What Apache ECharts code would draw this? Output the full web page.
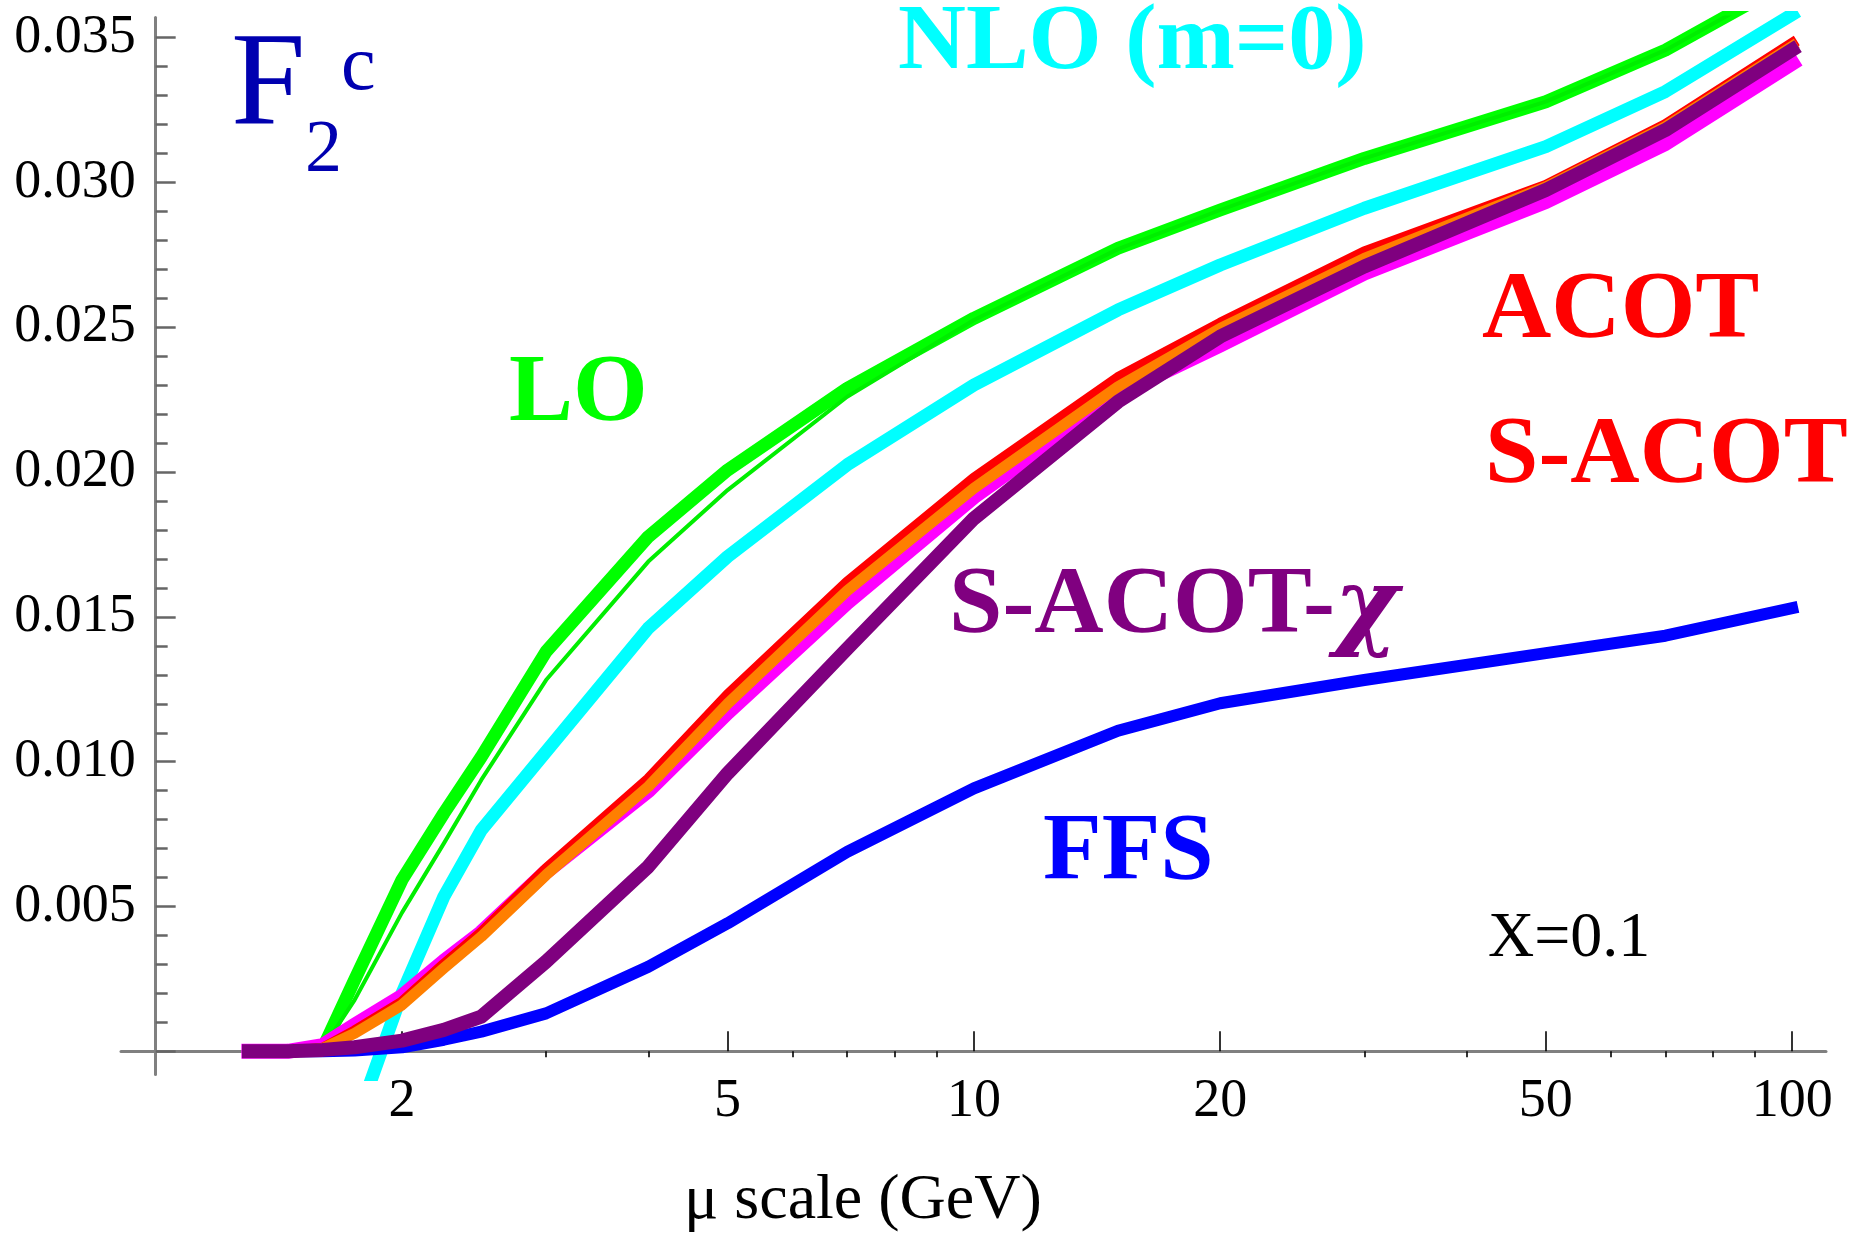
<!DOCTYPE html>
<html><head><meta charset="utf-8">
<script src="https://cdn.jsdelivr.net/npm/echarts@6/dist/echarts.min.js"></script>
<style>html,body{margin:0;padding:0;background:#fff}#c{width:1849px;height:1236px}</style>
</head><body><div id="c"></div>
<script>
// mu scale (GeV) sample points
const muValues = [1.3, 1.45, 1.6, 1.75, 2, 2.25, 2.5, 3, 4, 5, 7, 10, 15, 20, 30, 50, 70, 100];
// F2c curves
const loThick   = [0, 0, 0.0001, 0.00246, 0.00592, 0.00822, 0.01017, 0.0138, 0.01777, 0.02007, 0.02289, 0.02531, 0.02773, 0.02905, 0.03083, 0.03279, 0.03457, 0.0370];
const loThin    = [0, 0, 0.0001, 0.00177, 0.00479, 0.00718, 0.00937, 0.01282, 0.01691, 0.01938, 0.0226, 0.02525, 0.0277, 0.02905, 0.03083, 0.03279, 0.03457, 0.0370];
const nloM0     = [null, null, null, -0.0026, 0.0020, 0.00534, 0.00764, 0.01035, 0.01461, 0.01708, 0.02025, 0.02301, 0.0256, 0.02715, 0.02911, 0.03124, 0.03314, 0.0358];
const ffs       = [0, 0, 0, 0.00003, 0.00014, 0.0004, 0.00068, 0.00131, 0.00292, 0.00442, 0.00689, 0.00908, 0.01107, 0.01202, 0.01282, 0.01375, 0.01435, 0.0153];
const sacotChi  = [0, 0, 0.00005, 0.00014, 0.00037, 0.00074, 0.0012, 0.0031, 0.00638, 0.0096, 0.0139, 0.0184, 0.02243, 0.02468, 0.0271, 0.02974, 0.03181, 0.03458];
const sacot     = [0, 0, 0.0001, 0.00062, 0.0016, 0.00287, 0.00396, 0.00609, 0.00914, 0.0120, 0.0159, 0.01944, 0.02295, 0.02496, 0.02738, 0.02985, 0.03193, 0.0347];
const acot      = [0, 0, 0.0001, 0.0007, 0.0017, 0.0030, 0.0041, 0.0063, 0.0094, 0.0123, 0.0162, 0.01979, 0.02326, 0.02514, 0.0276, 0.0299, 0.0320, 0.0348];
const magentaC  = [0, 0, 0.0002, 0.0009, 0.0019, 0.0031, 0.0041, 0.0062, 0.0090, 0.0117, 0.0155, 0.01915, 0.0227, 0.02439, 0.02687, 0.02934, 0.03135, 0.03412];

// axes
const xMin = 0.907, xMax = 110, xCross = 1;
const yMin = -0.0008, yMax = 0.0357;
const xMajorTicks = [2, 5, 10, 20, 50, 100];
const xMinorTicks = [3, 4, 6, 7, 8, 9, 30, 40, 60, 70, 80, 90];
const yMajorTicks = [0, 0.005, 0.010, 0.015, 0.020, 0.025, 0.030, 0.035];
const yLabelTicks = [0.005, 0.010, 0.015, 0.020, 0.025, 0.030, 0.035];
const yMinorTicks = [0.001,0.002,0.003,0.004,0.006,0.007,0.008,0.009,0.011,0.012,0.013,0.014,0.016,0.017,0.018,0.019,0.021,0.022,0.023,0.024,0.026,0.027,0.028,0.029,0.031,0.032,0.033,0.034];

const SERIF = '"Liberation Serif", "Times New Roman", serif';
const GREEK = '"DejaVu Serif", "Liberation Serif", serif';
const gridLeft = 121, gridRight = 23, gridTop = 17.4, gridBottom = 161.5;
const W = 1849;
const gridW = W - gridLeft - gridRight;
const yOffset = -gridW * Math.log(xCross / xMin) / Math.log(xMax / xMin);

function pairs(arr) {
  const out = [];
  for (let i = 0; i < muValues.length; i++) if (arr[i] !== null) out.push([muValues[i], arr[i]]);
  return out;
}
function line(name, arr, color, width) {
  return { name, type: 'line', data: pairs(arr), showSymbol: false, symbol: 'none', smooth: false,
    xAxisIndex: 0, yAxisIndex: 0, clip: true, animation: false,
    lineStyle: { color, width, cap: 'square', join: 'round' } };
}
function label(text, x, y, font, fill) {
  return { type: 'text', x, y, z: 100,
    style: { text, fill, font, textAlign: 'left', textVerticalAlign: 'middle', align: 'left', verticalAlign: 'middle' } };
}

const chart = echarts.init(document.getElementById('c'), null, { renderer: 'canvas' });
chart.setOption({
  backgroundColor: '#ffffff',
  animation: false,
  grid: { left: gridLeft, right: gridRight, top: gridTop, bottom: gridBottom, containLabel: false, outerBoundsMode: 'none' },
  xAxis: [
    { type: 'log', min: xMin, max: xMax, logBase: 10,
      axisLine: { show: true, onZero: true, lineStyle: { color: '#808080', width: 3 } },
      axisTick: { show: true, inside: true, length: 20, customValues: xMajorTicks, lineStyle: { color: '#000', width: 1.6 } },
      axisLabel: { show: true, customValues: xMajorTicks, margin: 0, color: '#000', fontFamily: SERIF, fontSize: 54,
        formatter: v => String(Math.round(v)) },
      splitLine: { show: false }, minorTick: { show: false } },
    { type: 'log', min: xMin, max: xMax, logBase: 10,
      axisLine: { show: false, onZero: true, onZeroAxisIndex: 0 },
      axisTick: { show: true, inside: true, length: 6, customValues: xMinorTicks, lineStyle: { color: '#000', width: 1.6 } },
      axisLabel: { show: false }, splitLine: { show: false } }
  ],
  yAxis: [
    { type: 'value', min: yMin, max: yMax, offset: yOffset, position: 'left',
      axisLine: { show: true, onZero: false, lineStyle: { color: '#808080', width: 3 } },
      axisTick: { show: true, inside: true, length: 20, customValues: yMajorTicks, lineStyle: { color: '#666', width: 2.5 } },
      axisLabel: { show: true, customValues: yLabelTicks, margin: 20, color: '#000', fontFamily: SERIF, fontSize: 54,
        formatter: v => v.toFixed(3) },
      splitLine: { show: false } },
    { type: 'value', min: yMin, max: yMax, offset: yOffset, position: 'left',
      axisLine: { show: false, onZero: false },
      axisTick: { show: true, inside: true, length: 12, customValues: yMinorTicks, lineStyle: { color: '#666', width: 2.5 } },
      axisLabel: { show: false }, splitLine: { show: false } }
  ],
  series: [
    line('NLO (m=0)', nloM0, '#00FFFF', 13),
    line('LO', loThick, '#00FF00', 13),
    line('LO (thin)', loThin, '#00EE00', 4),
    line('FFS', ffs, '#0000FF', 12),
    line('magenta', magentaC, '#FF00FF', 15),
    line('ACOT', acot, '#FF0000', 11),
    line('S-ACOT', sacot, '#FF7F00', 11),
    line('S-ACOT-χ', sacotChi, '#7F007F', 14)
  ],
  graphic: [
    label('F', 231, 89, '134px ' + SERIF, '#0000B0'),
    label('2', 305, 152, '74px ' + SERIF, '#0000B0'),
    label('c', 341, 69, '78px ' + SERIF, '#0000B0'),
    label('NLO (m=0)', 898, 44, 'bold 94px ' + SERIF, '#00FFFF'),
    label('LO', 509, 395.6, 'bold 96px ' + SERIF, '#00FF00'),
    label('ACOT', 1482, 312.6, 'bold 96px ' + SERIF, '#FF0000'),
    label('S-ACOT', 1485, 457.6, 'bold 96px ' + SERIF, '#FF0000'),
    label('S-ACOT-', 949, 607.6, 'bold 96px ' + SERIF, '#800080'),
    label('χ', 1334, 612, 'italic bold 98px ' + GREEK, '#800080'),
    label('FFS', 1043, 854.6, 'bold 96px ' + SERIF, '#0000FF'),
    label('X=0.1', 1488, 939.4, '64px ' + SERIF, '#000000'),
    label('μ scale (GeV)', 684, 1201.4, '64px ' + SERIF, '#000000')
  ]
});
</script></body></html>
